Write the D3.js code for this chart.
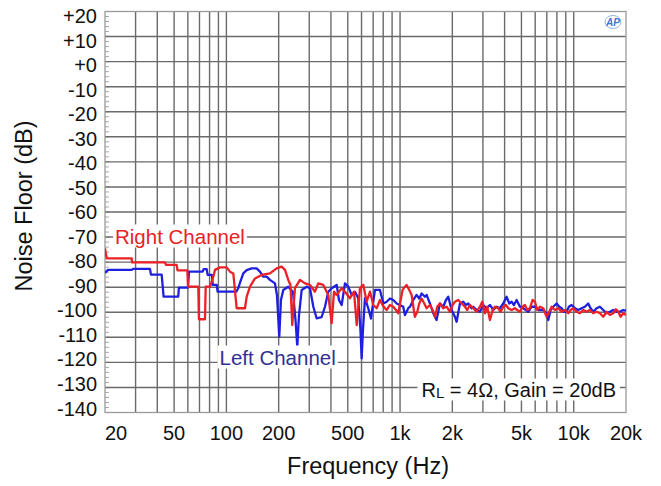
<!DOCTYPE html>
<html>
<head>
<meta charset="utf-8">
<script src="https://cdn.jsdelivr.net/npm/d3@7/dist/d3.min.js"></script>
<style>
  html, body { margin: 0; padding: 0; background: #ffffff; }
  svg { display: block; font-family: "Liberation Sans", Arial, Helvetica, sans-serif; }
</style>
</head>
<body>
<svg id="chart" width="661" height="486"></svg>
<script>
// ---------------- DATA ----------------
const freqTicks  = [20, 50, 100, 200, 500, 1000, 2000, 5000, 10000, 20000];
const freqLabels = ["20", "50", "100", "200", "500", "1k", "2k", "5k", "10k", "20k"];
const gridFreqs  = [20, 30, 40, 50, 60, 70, 80, 90, 100, 200, 300, 400, 500, 600, 700, 800, 900,
                    1000, 2000, 3000, 4000, 5000, 6000, 7000, 8000, 9000, 10000, 20000];
const dbTicks  = [20, 10, 0, -10, -20, -30, -40, -50, -60, -70, -80, -90, -100, -110, -120, -130, -140];
const dbLabels = ["+20", "+10", "+0", "-10", "-20", "-30", "-40", "-50", "-60", "-70", "-80", "-90",
                  "-100", "-110", "-120", "-130", "-140"];

// Left channel (blue)
const leftFreq = [20, 20.8, 28.5, 29.0, 36.3, 36.8, 42.4, 43.5, 52.8, 53.3, 60.1, 60.9, 73, 74, 77, 78, 82.5, 83.5, 88, 89,
  114, 117, 119.7, 125.1, 130.9, 139.8, 149.4, 156, 163, 170.6, 178.2, 190.4, 195.5, 201.6, 206.2, 212.6, 227.2, 241.8, 250, 256,
  261.9, 271.4, 290, 303, 316.6, 330.9, 353.7, 369.5, 386.1, 403.9, 431.7, 444.9, 461.1, 481.8, 503.3, 526.5, 550, 574.6, 591.5, 601,
  611.5, 628, 656, 680, 717,
  766, 801, 837, 875, 914, 956, 999, 1043, 1067, 1115, 1141, 1192, 1245, 1290, 1331, 1391, 1422, 1486, 1553, 1623,
  1697, 1774, 1838, 1895, 1981, 2070, 2117, 2212, 2312, 2395, 2470, 2582, 2640, 2759, 2884, 3014, 3150, 3292, 3442, 3597,
  3760, 3929, 4107, 4255, 4388, 4527, 4690, 4901, 5122, 5473, 5720, 5979, 6248, 6677, 6981, 7136, 7361, 7625, 7969, 8256,
  8514, 8782, 9098, 9382, 9720, 10159, 10617, 11097, 11597, 12122, 12502, 12954, 13543, 14155, 14791, 15459, 16157, 16887, 17651, 18448,
  19285, 20000];
const leftDb = [-84.3, -83.1, -83.1, -82.7, -82.7, -85.0, -85.0, -93.8, -93.8, -90.2, -90.2, -83.8, -83.8, -82.8, -82.8, -85.1, -85.1, -89.1, -89.1, -91.8,
  -91.8, -90.4, -88.3, -84.5, -83.2, -82.5, -82.5, -83.8, -85.8, -85.8, -87.1, -88.5, -93.1, -109.8, -95.1, -91.1, -89.8, -91.9, -103.1, -113.7,
  -101.1, -91.1, -89.8, -90.4, -97.8, -102.4, -101.9, -97.8, -91.8, -90.4, -89.1, -95.1, -97.1, -88.5, -89.8, -93.1, -91.8, -94.4, -107.1, -118.4,
  -107.1, -94.4, -98.4, -102.5, -91.1,
  -91.1, -96.5, -95.8, -94.5, -95.1, -96.5, -97.1, -97.8, -101.1, -98.4, -97.8, -95.1, -93.1, -94.5, -92.5, -93.8, -93.1, -96.5, -100.4, -103.1,
  -96.5, -97.8, -95.1, -93.8, -99.1, -101.8, -103.8, -96.5, -95.8, -97.1, -96.5, -98.4, -97.8, -99.1, -99.8, -97.1, -98.4, -97.1, -99.1, -97.8,
  -98.4, -96.5, -93.8, -96.5, -95.8, -97.1, -95.1, -97.8, -98.4, -99.8, -97.8, -97.8, -99.1, -99.1, -100.4, -103.1, -99.1, -97.8, -96.5, -97.8,
  -98.4, -99.8, -99.8, -97.8, -97.1, -98.4, -99.1, -98.4, -97.8, -96.5, -98.4, -99.8, -98.4, -97.8, -99.1, -100.4, -99.8, -99.1, -99.8, -99.8,
  -99.1, -99.4];

// Right channel (red)
const rightFreq = [20, 20.45, 28.5, 28.6, 44.3, 44.9, 51.7, 52.3, 59.6, 60.1, 68.9, 69.5, 75.3, 76.0, 80.5, 83.7, 86.0, 89.5, 91.9, 100.4,
  104.9, 109.6, 114.6, 127.9, 130.9, 136.8, 146.1, 159.7, 178.2, 194.7, 208.1, 217.5, 227.2, 233.9, 239.5, 248.2, 265.3, 283.6, 303, 323.7,
  338.1, 361.3, 386.1, 403.9, 416.6, 431.7, 461.1, 481.8, 514.9, 543.1, 562.9, 588.1, 614.3, 642.4, 671.2, 701.2, 733.5,
  766, 793, 818, 837, 875, 914, 947, 977, 1008, 1034, 1067, 1091, 1130, 1166, 1192, 1218, 1257, 1290, 1331, 1379,
  1422, 1486, 1540, 1588, 1638, 1697, 1774, 1854, 1937, 2007, 2070, 2163, 2261, 2364, 2438, 2526, 2640, 2759, 2884, 2975,
  3081, 3178, 3292, 3412, 3519, 3677, 3793, 3929, 4071, 4199, 4388, 4587, 4732, 4901, 5077, 5236, 5401, 5595, 5797, 5979,
  6166, 6391, 6677, 6981, 7232, 7459, 7795, 8147, 8514, 8899, 9301, 9591, 9938, 10385, 10854, 11344, 11858, 12393, 12954, 13543,
  14155, 14791, 15459, 16157, 16887, 17496, 18045, 18611, 19285, 20000];
const rightDb = [-74.5, -78.5, -78.5, -80.1, -80.1, -81.1, -81.1, -83.3, -83.3, -89.8, -89.8, -102.8, -102.8, -89.8, -89.8, -86.3, -83.1, -82.5, -82.1, -82.1,
  -83.8, -84.5, -98.4, -98.4, -93.8, -89.8, -86.5, -85.1, -84.5, -82.5, -81.8, -83.1, -87.1, -89.1, -105.1, -90.4, -87.1, -88.5, -89.1, -91.8,
  -88.5, -89.1, -93.1, -104.4, -91.8, -93.1, -90.4, -91.8, -94.4, -91.8, -105.1, -90.4, -89.1, -95.8, -91.8, -97.1, -98.4,
  -95.1, -97.1, -98.4, -99.1, -97.1, -97.8, -99.1, -100.4, -95.1, -91.1, -89.8, -89.1, -91.1, -93.1, -97.8, -101.8, -99.8, -96.5, -94.5, -96.5,
  -98.4, -97.1, -99.1, -101.8, -97.8, -96.5, -98.4, -97.8, -99.8, -97.1, -95.8, -95.1, -96.5, -97.8, -99.1, -97.1, -98.4, -99.8, -97.8, -95.8,
  -100.4, -97.8, -103.1, -99.1, -97.8, -98.4, -99.8, -97.8, -97.1, -98.4, -99.1, -98.4, -99.1, -99.8, -97.8, -97.1, -99.1, -98.4, -95.1, -95.8,
  -99.1, -97.8, -98.4, -101.8, -99.8, -97.8, -99.1, -98.4, -99.8, -99.1, -100.4, -99.1, -98.4, -99.8, -100.4, -99.1, -99.8, -99.1, -100.4, -99.8,
  -100.4, -101.8, -99.8, -101.1, -100.4, -98.8, -99.8, -101.8, -100.4, -101.1];

// ---------------- CHART ----------------
const svg = d3.select("#chart");
const W = 661, H = 486;
const plot = { left: 105, right: 626, top: 11.5, bottom: 412.5 };

const x = d3.scaleLog().domain([20, 20000]).range([plot.left, plot.right]);
const y = d3.scaleLinear().domain([20, -140]).range([plot.top, plot.bottom]);
const yLabelPos = d3.scaleLinear().domain([20, -140]).range([15.8, 408.3]);

svg.append("rect").attr("width", W).attr("height", H).attr("fill", "#fff");

// minor ticks on left edge
const minor = d3.range(20, -140, -2);
svg.append("g").selectAll("line").data(minor).join("line")
  .attr("x1", plot.left).attr("x2", plot.left + 4)
  .attr("y1", d => y(d)).attr("y2", d => y(d))
  .attr("stroke", "#a8a8a8").attr("stroke-width", 1);

// grid
const grid = svg.append("g");
grid.selectAll("line.v").data(gridFreqs.filter(f => f > 20 && f < 20000)).join("line")
  .attr("class", "v")
  .attr("x1", d => x(d)).attr("x2", d => x(d))
  .attr("y1", plot.top).attr("y2", plot.bottom)
  .attr("stroke", "#6a6a6a").attr("stroke-width", 1.4);
grid.selectAll("line.h").data(dbTicks.filter(d => d < 20 && d > -140)).join("line")
  .attr("class", "h")
  .attr("x1", plot.left).attr("x2", plot.right)
  .attr("y1", d => y(d)).attr("y2", d => y(d))
  .attr("stroke", "#6a6a6a").attr("stroke-width", 1.4);

// border
svg.append("rect")
  .attr("x", plot.left).attr("y", plot.top)
  .attr("width", plot.right - plot.left).attr("height", plot.bottom - plot.top)
  .attr("fill", "none").attr("stroke", "#9a9a9a").attr("stroke-width", 1.3);

// y tick labels
svg.append("g").selectAll("text").data(dbTicks).join("text")
  .attr("x", 97).attr("y", d => yLabelPos(d)).attr("dy", "0.36em")
  .attr("text-anchor", "end").attr("font-size", 20).attr("fill", "#111")
  .text((d, i) => dbLabels[i]);

// x tick labels
svg.append("g").selectAll("text").data(freqTicks).join("text")
  .attr("x", d => x(d))
  .attr("y", 440)
  .attr("text-anchor", (d, i) => i === 0 ? "start" : "middle")
  .attr("font-size", 20).attr("fill", "#111")
  .text((d, i) => freqLabels[i]);

// axis titles
svg.append("text").attr("x", 368).attr("y", 474).attr("text-anchor", "middle")
  .attr("font-size", 23.5).attr("fill", "#111").text("Frequency (Hz)");
svg.append("text").attr("transform", "translate(32,206) rotate(-90)").attr("text-anchor", "middle")
  .attr("font-size", 23.5).attr("fill", "#111").text("Noise Floor (dB)");

// traces
svg.append("clipPath").attr("id", "clip").append("rect")
  .attr("x", plot.left).attr("y", plot.top)
  .attr("width", plot.right - plot.left).attr("height", plot.bottom - plot.top);
const line = d3.line().x(d => x(d[0])).y(d => y(d[1]));
const leftData = leftFreq.map((f, i) => [f, leftDb[i]]);
const rightData = rightFreq.map((f, i) => [f, rightDb[i]]);
const traces = svg.append("g").attr("clip-path", "url(#clip)");
traces.append("path").datum(leftData).attr("d", line)
  .attr("fill", "none").attr("stroke", "#1f1fe0").attr("stroke-width", 2.3).attr("stroke-linejoin", "round");
traces.append("path").datum(rightData).attr("d", line)
  .attr("fill", "none").attr("stroke", "#ec2027").attr("stroke-width", 2.3).attr("stroke-linejoin", "round");

// labels with white boxes
function boxedLabel(g, build, pad) {
  const t = build(g);
  const b = t.node().getBBox();
  g.insert("rect", "text")
    .attr("x", b.x - pad[0]).attr("y", b.y - pad[1])
    .attr("width", b.width + 2 * pad[0]).attr("height", b.height + 2 * pad[1])
    .attr("fill", "#fff");
}
boxedLabel(svg.append("g"), g => g.append("text").attr("x", 115).attr("y", 243.5)
  .attr("font-size", 20.5).attr("fill", "#e5231f").text("Right Channel"), [2, 0]);
boxedLabel(svg.append("g"), g => g.append("text").attr("x", 219.5).attr("y", 364.5)
  .attr("font-size", 20.5).attr("fill", "#2e3192").text("Left Channel"), [2, 0]);
boxedLabel(svg.append("g"), g => {
  const t = g.append("text").attr("x", 616).attr("y", 396.5).attr("text-anchor", "end")
    .attr("font-size", 20).attr("fill", "#111");
  t.append("tspan").text("R");
  t.append("tspan").attr("font-size", 15).attr("dy", 1).text("L");
  t.append("tspan").attr("dy", -1).text(" = 4\u03A9, Gain = 20dB");
  return t;
}, [4, 0]);

// AP logo
const logo = svg.append("g").attr("transform", "translate(613,22)");
logo.append("ellipse").attr("rx", 8).attr("ry", 6.5).attr("fill", "none")
  .attr("stroke", "#8fb4e6").attr("stroke-width", 1);
logo.append("text").attr("x", 0).attr("y", 3.5).attr("text-anchor", "middle")
  .attr("font-size", 10).attr("font-style", "italic").attr("font-weight", "bold")
  .attr("fill", "#3b78d0").text("AP");
</script>
</body>
</html>
